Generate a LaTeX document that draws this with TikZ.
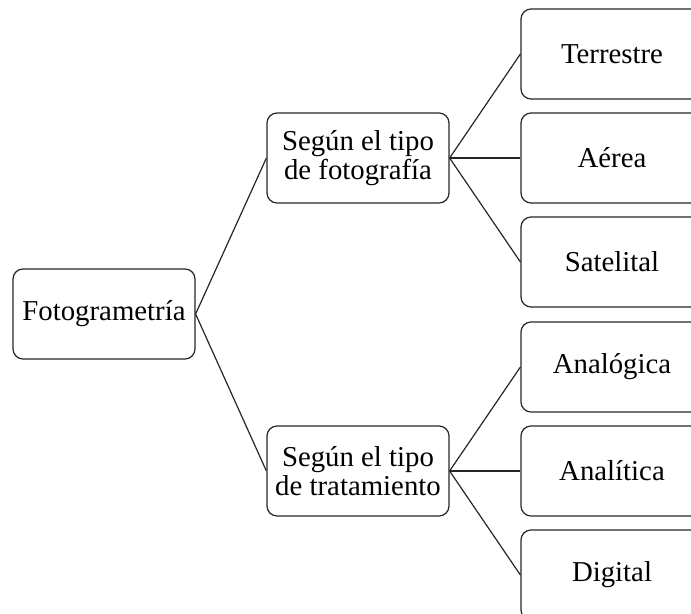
\documentclass[tikz,border=0pt]{standalone}
\usepackage{fontspec}
\setmainfont{Liberation Serif}
\begin{document}
\begin{tikzpicture}[x=0.5pt,y=-0.5pt,line width=0.6pt,
    every text node part/.style={align=center},
    kasten/.style={draw=black!85, rounded corners=5pt, minimum width=91pt,
      minimum height=45pt, inner sep=0pt, font=\fontsize{14.4}{14.4}\selectfont}]

    \useasboundingbox (0,0) rectangle (691,614);

    \node[kasten] (Fotogram) at (104,314) {Fotogrametría};

    \node[kasten] (SegFoto)  at (358,158) {Según el tipo\\de fotografía};
    \node[kasten] (SegTrat)  at (358,471) {Según el tipo\\de tratamiento};

    \node[kasten] (Terr)     at (612,54)  {Terrestre};
    \node[kasten] (Aer)      at (612,158) {Aérea};
    \node[kasten] (Sat)      at (612,262) {Satelital};

    \node[kasten] (Analog)   at (612,367) {Analógica};
    \node[kasten] (Analit)   at (612,471) {Analítica};
    \node[kasten] (Digit)    at (612,575) {Digital};

    \draw[black!85] (Fotogram.east) -- (SegFoto.west);
    \draw[black!85] (Fotogram.east) -- (SegTrat.west);

    \draw[black!85] (SegFoto.east)  -- (Terr.west);
    \draw[black!85] (SegFoto.east)  -- (Aer.west);
    \draw[black!85] (SegFoto.east)  -- (Sat.west);

    \draw[black!85] (SegTrat.east)  -- (Analog.west);
    \draw[black!85] (SegTrat.east)  -- (Analit.west);
    \draw[black!85] (SegTrat.east)  -- (Digit.west);
  \end{tikzpicture}
\end{document}
